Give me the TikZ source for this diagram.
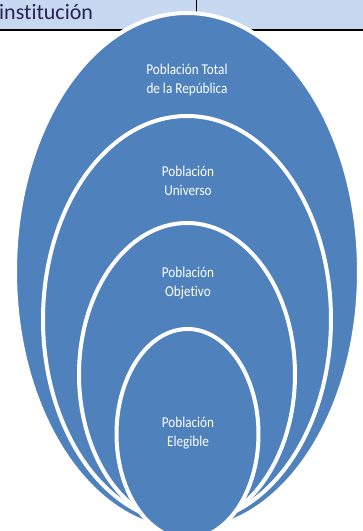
\documentclass[tikz,border=0pt]{standalone}
\usepackage{fontspec}
\setmainfont{Carlito}[Ligatures=NoCommon]
\definecolor{fondo}{HTML}{C6D9F1}
\definecolor{azul}{HTML}{4F81BD}
\definecolor{tinta}{HTML}{2A2254}
\begin{document}
\begin{tikzpicture}[x=1pt,y=1pt,
    capa/.style={fill=azul, draw=white, line width=4pt},
    rotulo/.style={text=white, align=center, inner sep=0pt,
      font=\fontsize{15}{19.5}\selectfont, xscale=0.88, transform shape}]
    \useasboundingbox (0,0) rectangle (363,531);
    \clip (0,0) rectangle (363,531);

    \coordinate (b0) at (0,501);
    \coordinate (b1) at (363,501);
    \coordinate (v0) at (196,531);
    \coordinate (v1) at (196,501);

    \coordinate (c1) at (187,259.5);
    \coordinate (c2) at (187,211.5);
    \coordinate (c3) at (187,156.5);
    \coordinate (c4) at (187.5,97);

    % fila de la tabla
    \fill[fondo] (0,501) rectangle (363,531);
    \draw[line width=1.2pt] (b0) -- (b1);
    \draw[line width=1pt] (v0) -- (v1);
    \node[anchor=base west, inner sep=0pt, text=tinta, font=\fontsize{22}{26}\selectfont]
      (inst) at (-1,511) {institución};

    \draw[capa] (c1) ellipse (172 and 258.5);
    \draw[capa] (c2) ellipse (144 and 203.5);
    \draw[capa] (c3) ellipse (108 and 151.5);
    \draw[capa] (c4) ellipse (71 and 105);

    \node[rotulo] (t1) at (187,451) {Población Total\\de la República};
    \node[rotulo] (t2) at (188,350) {Población\\Universo};
    \node[rotulo] (t3) at (188,248) {Población\\Objetivo};
    \node[rotulo] (t4) at (188,98) {Población\\Elegible};
\end{tikzpicture}
\end{document}
